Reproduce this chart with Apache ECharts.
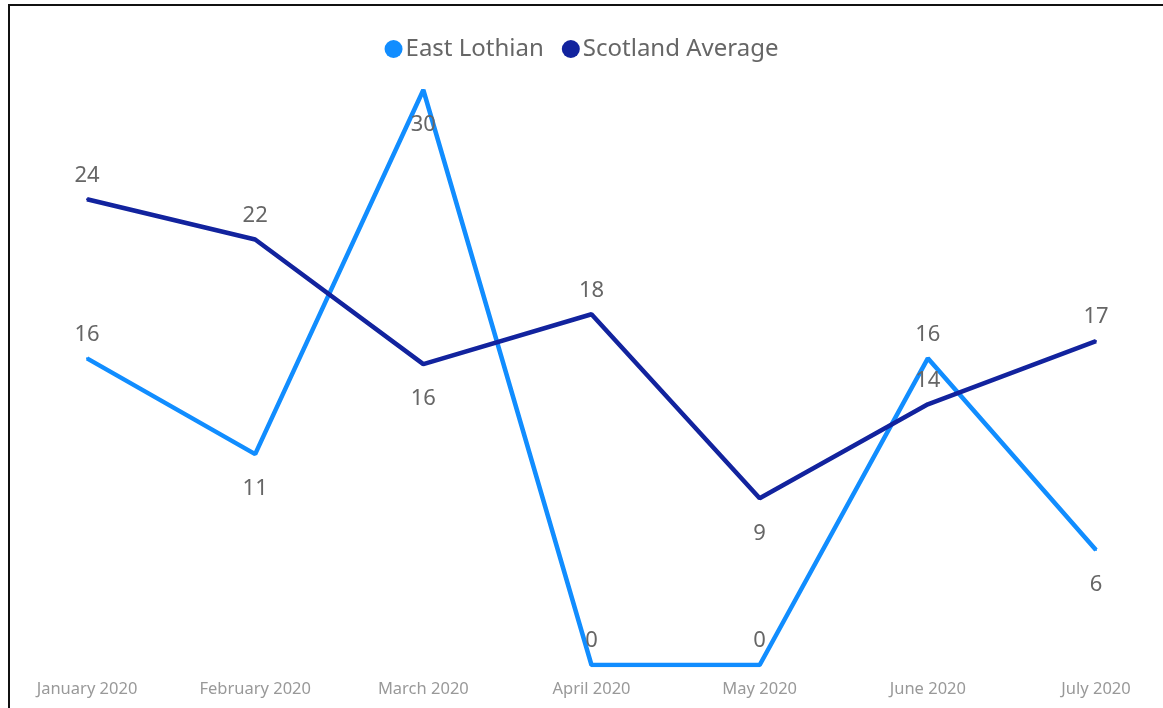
<!DOCTYPE html>
<html>
<head>
<meta charset="utf-8">
<script src="https://cdn.jsdelivr.net/npm/echarts@6/dist/echarts.min.js"></script>
<style>
html,body{margin:0;padding:0;background:#fff;}
#frame{position:absolute;left:8px;top:4px;width:1160px;height:710px;border-left:2px solid #111;border-top:2px solid #111;box-sizing:border-box;}
#chart{position:absolute;left:0;top:0;width:1163px;height:708px;}
</style>
</head>
<body>
<div id="frame"></div>
<div id="chart"></div>
<script>
const categories = ["January 2020","February 2020","March 2020","April 2020","May 2020","June 2020","July 2020"];
const eastLothian = [16, 11, 30, 0, 0, 16, 6];
const scotlandAverage = [24.3, 22.2, 15.7, 18.3, 8.7, 13.6, 16.9];
const eastLabelPos = ["top","bottom","bottom","top","top","top","bottom"];
const scotLabelPos = ["top","top","bottom","top","bottom","top","top"];

function build(vals, pos){
  return vals.map((v,i)=>({value:v,label:{position:pos[i],distance:pos[i]==='top'?12:23}}));
}
const chart = echarts.init(document.getElementById('chart'));
const labelStyle = {show:true,fontSize:22,color:'#666',fontFamily:'Noto Sans',formatter:p=>Math.round(p.value)};
chart.setOption({
  animation:false,
  backgroundColor:'transparent',
  legend:{
    top:32,left:'center',icon:'circle',itemWidth:18,itemHeight:18,itemGap:18,
    textStyle:{fontSize:24,color:'#666',fontFamily:'Noto Sans',padding:[0,0,0,-2]},
    data:['East Lothian','Scotland Average']
  },
  grid:{left:87,right:67,top:90,bottom:43},
  xAxis:{type:'category',data:categories,boundaryGap:false,
    axisLine:{show:false},axisTick:{show:false},
    axisLabel:{fontSize:16.5,color:'#999',fontFamily:'Noto Sans',margin:16,interval:0}},
  yAxis:{type:'value',min:0,max:30,show:false,splitLine:{show:false}},
  series:[
    {name:'East Lothian',type:'line',data:build(eastLothian,eastLabelPos),
     color:'#118DFF',lineStyle:{width:4.5},symbol:'circle',symbolSize:2,label:labelStyle,z:2},
    {name:'Scotland Average',type:'line',data:build(scotlandAverage,scotLabelPos),
     color:'#12239E',lineStyle:{width:4.5},symbol:'circle',symbolSize:2,label:labelStyle,z:3}
  ]
});
</script>
</body>
</html>
